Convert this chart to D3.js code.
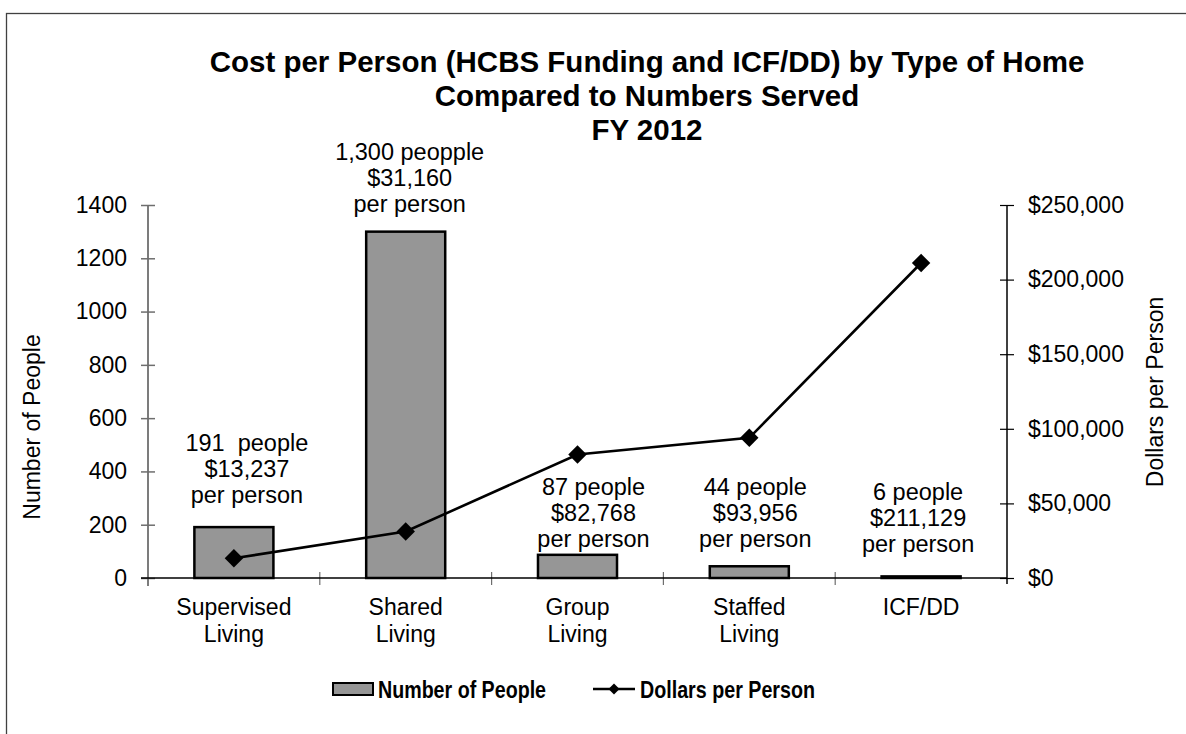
<!DOCTYPE html>
<html>
<head>
<meta charset="utf-8">
<script src="https://cdn.jsdelivr.net/npm/d3@7"></script>
<style>
  html, body { margin: 0; padding: 0; background: #fff; }
  svg { display: block; font-family: "Liberation Sans", Arial, sans-serif; }
  text { white-space: pre; }
</style>
</head>
<body>
<svg id="chart" width="1186" height="734"></svg>
<script>
// Home types and values, FY 2012
const categories = [["Supervised", "Living"], ["Shared", "Living"], ["Group", "Living"], ["Staffed", "Living"], ["ICF/DD"]];
const people = [191, 1300, 87, 44, 6];
const dollarsPerPerson = [13237, 31160, 82768, 93956, 211129];
const peopleLabels = ["191  people", "1,300 peopple", "87 people", "44 people", "6 people"];
const peopleTicks = [0, 200, 400, 600, 800, 1000, 1200, 1400];
const dollarTicks = [0, 50000, 100000, 150000, 200000, 250000];
const titleLines = ["Cost per Person (HCBS Funding and ICF/DD) by Type of Home", "Compared to Numbers Served", "FY 2012"];

// hand-placed offsets of the bar annotations (px)
const labelDx = [13, 4, 16, 6, -3];
const labelGap = [24, 20, 8, 19, 24];

const svg = d3.select("#chart");
const plotLeft = 148, plotRight = 1007, plotTop = 205, plotBase = 578;

// outer frame
svg.append("rect").attr("x", 6.5).attr("y", 13.5).attr("width", 1400).attr("height", 1000)
  .attr("fill", "none").attr("stroke", "#404040").attr("stroke-width", 1.3);

const keys = categories.map(c => c.join(" "));
const x = d3.scaleBand().domain(keys).range([plotLeft, plotRight]).paddingInner(0).paddingOuter(0);
const yL = d3.scaleLinear().domain([0, 1400]).range([plotBase, plotTop]);
const yR = d3.scaleLinear().domain([0, 250000]).range([plotBase, plotTop]);

// title
svg.append("g").selectAll("text").data(titleLines).join("text")
  .attr("x", 647).attr("y", (d, i) => [72, 106, 140][i])
  .attr("text-anchor", "middle").attr("font-size", 29.5).attr("font-weight", "bold").attr("fill", "#000")
  .text(d => d);

// left axis
const axL = d3.axisLeft(yL).tickValues(peopleTicks).tickSize(0).tickPadding(0).tickFormat(d3.format("d"));
const gL = svg.append("g").attr("transform", `translate(${plotLeft},0)`).call(axL);
gL.select(".domain").remove();
gL.selectAll(".tick text").attr("x", -21).attr("font-size", 23).attr("fill", "#000")
  .attr("font-family", "Liberation Sans, Arial, sans-serif");
gL.selectAll(".tick").append("line").attr("x1", -7).attr("x2", 7).attr("stroke", "#6e6e6e").attr("stroke-width", 1.5);
gL.append("line").attr("y1", plotTop).attr("y2", plotBase + 8).attr("stroke", "#6e6e6e").attr("stroke-width", 1.8);

// right axis
const axR = d3.axisRight(yR).tickValues(dollarTicks).tickSize(0).tickPadding(0)
  .tickFormat(d => "$" + d3.format(",")(d));
const gR = svg.append("g").attr("transform", `translate(${plotRight},0)`).call(axR);
gR.select(".domain").remove();
gR.selectAll(".tick text").attr("x", 21).attr("font-size", 23).attr("fill", "#000")
  .attr("font-family", "Liberation Sans, Arial, sans-serif");
gR.selectAll(".tick").append("line").attr("x1", -7).attr("x2", 7).attr("stroke", "#000").attr("stroke-width", 1.2);
gR.append("line").attr("y1", plotTop).attr("y2", plotBase + 6).attr("stroke", "#000").attr("stroke-width", 1.5);

// category boundaries on the baseline
const bounds = keys.slice(1).map(k => x(k));
svg.append("g").selectAll("line").data(bounds).join("line")
  .attr("x1", d => d).attr("x2", d => d).attr("y1", plotBase - 6).attr("y2", plotBase + 7)
  .attr("stroke", "#6e6e6e").attr("stroke-width", 1.2);

// bars: number of people
const bw = x.bandwidth() * 0.46;
svg.append("g").selectAll("rect").data(people).join("rect")
  .attr("x", (d, i) => x(keys[i]) + (x.bandwidth() - bw) / 2)
  .attr("y", d => yL(d))
  .attr("width", bw)
  .attr("height", d => Math.max(0, plotBase - yL(d)))
  .attr("fill", "#969696").attr("stroke", "#000").attr("stroke-width", 2.5);

// baseline
svg.append("line").attr("x1", plotLeft - 7).attr("x2", plotRight).attr("y1", plotBase).attr("y2", plotBase)
  .attr("stroke", "#000").attr("stroke-width", 1.5);

// category labels
const cx = i => x(keys[i]) + x.bandwidth() / 2;
const catG = svg.append("g");
categories.forEach((lines, i) => {
  lines.forEach((t, j) => {
    catG.append("text").attr("x", cx(i)).attr("y", 615 + j * 27)
      .attr("text-anchor", "middle").attr("font-size", 23).attr("fill", "#000").text(t);
  });
});

// line: dollars per person
const line = d3.line().x((d, i) => cx(i)).y(d => yR(d));
svg.append("path").datum(dollarsPerPerson).attr("d", line)
  .attr("fill", "none").attr("stroke", "#000").attr("stroke-width", 2.6);
svg.append("g").selectAll("path").data(dollarsPerPerson).join("path")
  .attr("d", d3.symbol().type(d3.symbolSquare).size(170)())
  .attr("transform", (d, i) => `translate(${cx(i)},${yR(d)}) rotate(45)`)
  .attr("fill", "#000");

// annotations above the bars
const annG = svg.append("g");
people.forEach((p, i) => {
  const lines = [peopleLabels[i], "$" + d3.format(",")(dollarsPerPerson[i]), "per person"];
  const lastBase = yL(p) - labelGap[i];
  lines.forEach((t, j) => {
    annG.append("text").attr("x", cx(i) + labelDx[i]).attr("y", lastBase - (2 - j) * 26)
      .attr("text-anchor", "middle").attr("font-size", 23.5).attr("fill", "#000").text(t);
  });
});

// axis titles
svg.append("text").attr("transform", "translate(40,427) rotate(-90)")
  .attr("text-anchor", "middle").attr("font-size", 23).attr("fill", "#000").text("Number of People");
svg.append("text").attr("transform", "translate(1163,392) rotate(-90)")
  .attr("text-anchor", "middle").attr("font-size", 23).attr("fill", "#000").text("Dollars per Person");

// legend
const lg = svg.append("g");
lg.append("rect").attr("x", 333).attr("y", 683).attr("width", 40).attr("height", 12)
  .attr("fill", "#969696").attr("stroke", "#000").attr("stroke-width", 2);
lg.append("text").attr("x", 378).attr("y", 698).attr("font-size", 24).attr("font-weight", "bold")
  .attr("textLength", 168).attr("lengthAdjust", "spacingAndGlyphs").text("Number of People");
lg.append("line").attr("x1", 593).attr("x2", 635).attr("y1", 689).attr("y2", 689)
  .attr("stroke", "#000").attr("stroke-width", 2.6);
lg.append("path").attr("d", d3.symbol().type(d3.symbolSquare).size(60)())
  .attr("transform", "translate(614,689) rotate(45)").attr("fill", "#000");
lg.append("text").attr("x", 640).attr("y", 698).attr("font-size", 24).attr("font-weight", "bold")
  .attr("textLength", 175).attr("lengthAdjust", "spacingAndGlyphs").text("Dollars per Person");
</script>
</body>
</html>
